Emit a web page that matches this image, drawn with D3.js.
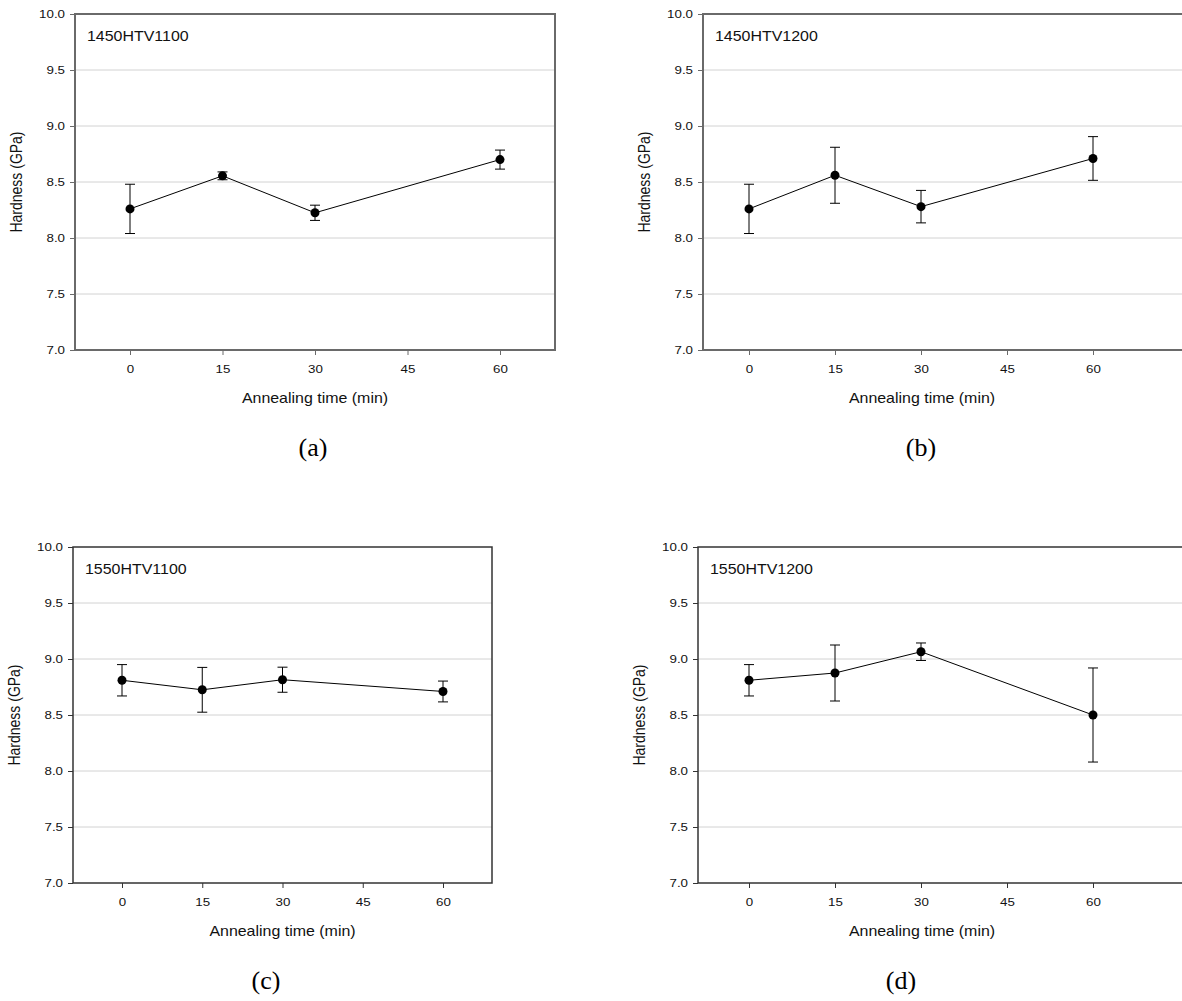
<!DOCTYPE html>
<html>
<head>
<meta charset="utf-8">
<script src="https://cdn.jsdelivr.net/npm/d3@7"></script>
<style>
  body { margin: 0; background: #fff; }
  svg { display: block; }
</style>
</head>
<body>
<div id="chart"></div>
<script>
// Data
const times = [0, 15, 30, 60];
const xTicks = [0, 15, 30, 45, 60];
const yTicks = [7.0, 7.5, 8.0, 8.5, 9.0, 9.5, 10.0];

const sampleNames = ["1450HTV1100", "1450HTV1200", "1550HTV1100", "1550HTV1200"];
const captions = ["(a)", "(b)", "(c)", "(d)"];

const hardnessA = [8.26, 8.555, 8.225, 8.70];
const errA = [0.22, 0.035, 0.068, 0.085];
const hardnessB = [8.26, 8.56, 8.28, 8.71];
const errB = [0.22, 0.25, 0.145, 0.195];
const hardnessC = [8.81, 8.725, 8.815, 8.71];
const errC = [0.14, 0.20, 0.112, 0.093];
const hardnessD = [8.81, 8.875, 9.065, 8.50];
const errD = [0.14, 0.25, 0.078, 0.42];

const hardness = [hardnessA, hardnessB, hardnessC, hardnessD];
const errors = [errA, errB, errC, errD];

// Panel placement (pixels)
const layout = [
    { left: 75, right: 555, x0: 130, x60: 500, top: 14, bottom: 350, capX: 313, frame: "#6a6a6a", fw: 2 },
    { left: 703, right: 1195, x0: 749, x60: 1093, top: 14, bottom: 350, capX: 921, frame: "#6a6a6a", fw: 2 },
    { left: 73, right: 492, x0: 122, x60: 443, top: 547, bottom: 883, capX: 266, frame: "#333", fw: 1.5 },
    { left: 698, right: 1195, x0: 749, x60: 1093, top: 547, bottom: 883, capX: 901, frame: "#333", fw: 1.5 }
];

const sx = 1.14; // the original figure is stretched horizontally
const font = "Arial, 'Liberation Sans', sans-serif";

const svg = d3.select("#chart")
    .append("svg")
    .attr("width", 1182)
    .attr("height", 1001);

layout.forEach(function(L, i) {
    const xScale = d3.scaleLinear().domain([0, 60]).range([L.x0, L.x60]);
    const yScale = d3.scaleLinear().domain([7, 10]).range([L.bottom, L.top]);
    const g = svg.append("g");

    // Grid lines
    g.selectAll(".grid")
        .data(yTicks.slice(1, -1))
        .enter().append("line")
        .attr("x1", L.left)
        .attr("x2", L.right)
        .attr("y1", d => yScale(d))
        .attr("y2", d => yScale(d))
        .attr("stroke", "#d2d2d2")
        .attr("stroke-width", 1);

    // Frame
    g.append("rect")
        .attr("x", L.left)
        .attr("y", L.top)
        .attr("width", L.right - L.left)
        .attr("height", L.bottom - L.top)
        .attr("fill", "none")
        .attr("stroke", L.frame)
        .attr("stroke-width", L.fw);

    // Y axis
    const yAxis = g.append("g")
        .attr("transform", "translate(" + L.left + ",0)")
        .call(d3.axisLeft(yScale).tickValues(yTicks).tickFormat(d3.format(".1f")).tickSize(5).tickSizeOuter(0));
    yAxis.select(".domain").remove();
    yAxis.selectAll("line").attr("stroke", L.frame);
    yAxis.selectAll("text")
        .attr("x", -10 / sx)
        .attr("transform", "scale(" + sx + ",1)")
        .attr("font-family", font)
        .attr("font-size", 11.7)
        .attr("fill", "#111");

    // X axis
    const xAxis = g.append("g")
        .attr("transform", "translate(0," + L.bottom + ")")
        .call(d3.axisBottom(xScale).tickValues(xTicks).tickSize(5).tickSizeOuter(0));
    xAxis.select(".domain").remove();
    xAxis.selectAll("line").attr("stroke", L.frame);
    xAxis.selectAll("text")
        .attr("y", 15)
        .attr("transform", "scale(" + sx + ",1)")
        .attr("font-family", font)
        .attr("font-size", 11.7)
        .attr("fill", "#111");

    const midX = (L.left + Math.min(L.right, 1182)) / 2;
    const plotMidX = i % 2 === 0 ? (L.left + L.right) / 2 : L.x0 + (L.x60 - L.x0) / 2 + 1;

    // Axis titles
    g.append("text")
        .attr("transform", "translate(" + plotMidX + "," + (L.bottom + 53) + ") scale(" + sx + ",1)")
        .attr("text-anchor", "middle")
        .attr("font-family", font)
        .attr("font-size", 14)
        .attr("fill", "#111")
        .text("Annealing time (min)");

    g.append("text")
        .attr("transform", "translate(" + (L.left - 53) + "," + ((L.top + L.bottom) / 2) + ") rotate(-90) scale(1," + sx + ")")
        .attr("text-anchor", "middle")
        .attr("font-family", font)
        .attr("font-size", 14)
        .attr("fill", "#111")
        .text("Hardness (GPa)");

    // Sample name
    g.append("text")
        .attr("transform", "translate(" + (L.left + 12) + "," + (L.top + 27) + ") scale(" + sx + ",1)")
        .attr("font-family", font)
        .attr("font-size", 14)
        .attr("fill", "#111")
        .text(sampleNames[i]);

    // Data
    const pts = times.map((t, k) => ({ t: t, v: hardness[i][k], e: errors[i][k] }));

    g.append("path")
        .datum(pts)
        .attr("fill", "none")
        .attr("stroke", "#000")
        .attr("stroke-width", 1)
        .attr("d", d3.line().x(d => xScale(d.t)).y(d => yScale(d.v)));

    const eb = g.selectAll(".err")
        .data(pts)
        .enter().append("g");
    eb.append("line")
        .attr("x1", d => xScale(d.t))
        .attr("x2", d => xScale(d.t))
        .attr("y1", d => yScale(d.v - d.e))
        .attr("y2", d => yScale(d.v + d.e))
        .attr("stroke", "#000");
    eb.append("line")
        .attr("x1", d => xScale(d.t) - 5)
        .attr("x2", d => xScale(d.t) + 5)
        .attr("y1", d => yScale(d.v + d.e))
        .attr("y2", d => yScale(d.v + d.e))
        .attr("stroke", "#000");
    eb.append("line")
        .attr("x1", d => xScale(d.t) - 5)
        .attr("x2", d => xScale(d.t) + 5)
        .attr("y1", d => yScale(d.v - d.e))
        .attr("y2", d => yScale(d.v - d.e))
        .attr("stroke", "#000");

    g.selectAll("circle")
        .data(pts)
        .enter().append("circle")
        .attr("cx", d => xScale(d.t))
        .attr("cy", d => yScale(d.v))
        .attr("r", 4.5)
        .attr("fill", "#000");

    // Caption under the panel
    g.append("text")
        .attr("x", L.capX)
        .attr("y", L.bottom + 106)
        .attr("text-anchor", "middle")
        .attr("font-family", "'Times New Roman', 'Liberation Serif', serif")
        .attr("font-size", 26)
        .attr("fill", "#000")
        .text(captions[i]);
});
</script>
</body>
</html>
